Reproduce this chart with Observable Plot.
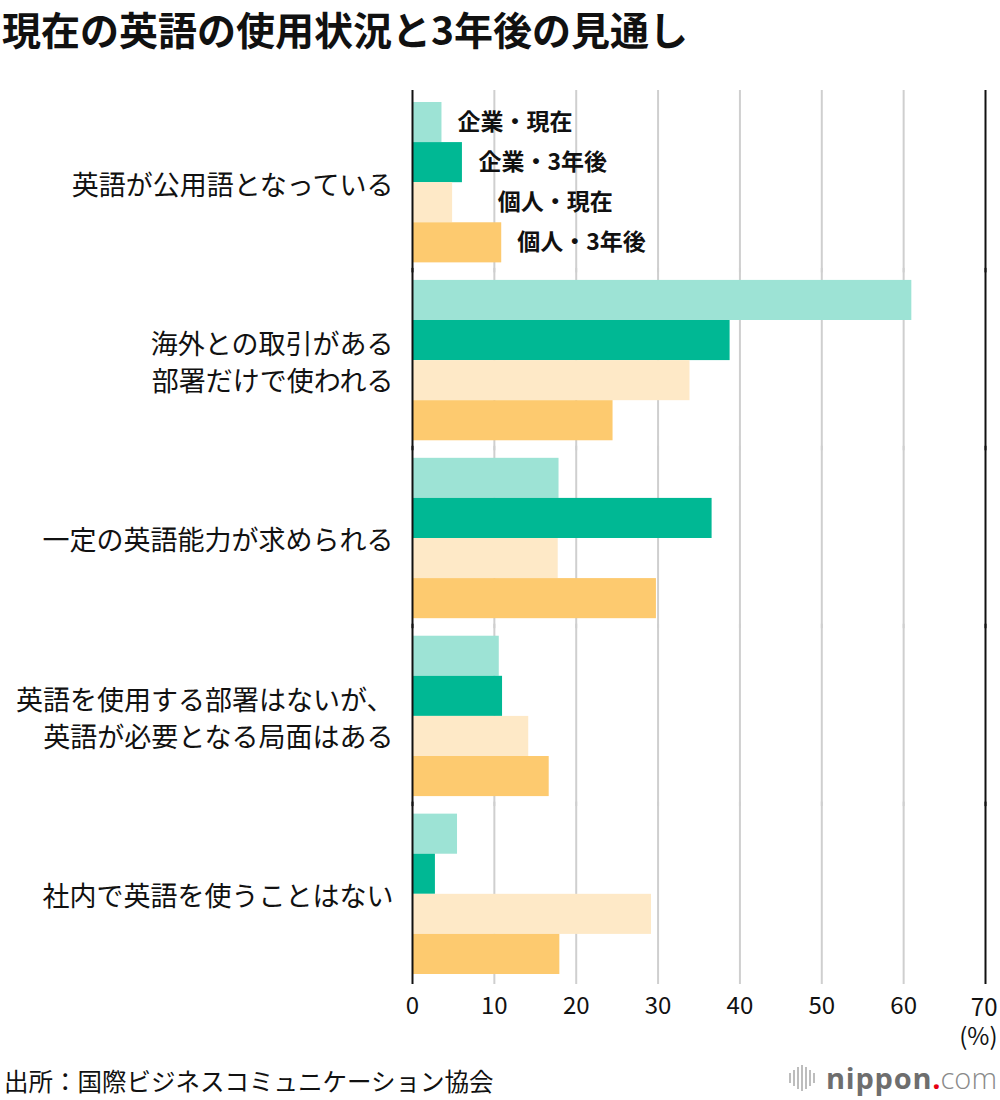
<!DOCTYPE html>
<html>
<head>
<meta charset="utf-8">
<script src="https://cdn.jsdelivr.net/npm/d3@7"></script>
<script src="https://cdn.jsdelivr.net/npm/@observablehq/plot@0.6"></script>
<style>
  body { margin: 0; background: #fff; font-family: "Noto Sans CJK JP", sans-serif; }
  #wrap { position: relative; width: 1000px; height: 1100px; overflow: hidden; }
  #title { height: 52px; line-height: 56px; font-size: 39px; font-weight: bold; padding-left: 2px; white-space: nowrap; color: #111; }
  #footer { position: relative; height: 48px; }
  #source { position: absolute; left: 4px; top: 11px; font-size: 24.5px; line-height: 36px; color: #111; white-space: nowrap; }
  #logo { position: absolute; right: 3px; top: 6px; height: 40px; display: flex; align-items: center; white-space: nowrap; }
  #logo .icon { display: flex; align-items: center; gap: 2px; margin-right: 11px; }
  #logo .icon span { display: block; width: 2px; background: #bdbdbd; }
  #logo .n { font-family: "Open Sans", sans-serif; font-weight: 700; font-size: 29px; line-height: 40px; color: #6e6e6e; letter-spacing: 0.8px; }
  #logo .d { font-family: "Open Sans", sans-serif; font-weight: 700; font-size: 29px; line-height: 40px; color: #e60012; }
  #logo .c { font-family: "Open Sans", sans-serif; font-weight: 300; font-size: 29px; line-height: 40px; color: #8a8a8a; }
</style>
</head>
<body>
<div id="wrap">
  <div id="title">現在の英語の使用状況と3年後の見通し</div>
  <div id="chart"></div>
  <div id="footer">
    <div id="source">出所：国際ビジネスコミュニケーション協会</div>
    <div id="logo">
      <div class="icon"><span style="height:10px"></span><span style="height:16px"></span><span style="height:22px"></span><span style="height:26px"></span><span style="height:22px"></span><span style="height:16px"></span><span style="height:10px"></span></div>
      <span class="n">nippon</span><span class="d">.</span><span class="c">com</span>
    </div>
  </div>
</div>
<script>
// ---- data ----
const categories = [
  "英語が公用語となっている",
  "海外との取引がある\n部署だけで使われる",
  "一定の英語能力が求められる",
  "英語を使用する部署はないが、\n英語が必要となる局面はある",
  "社内で英語を使うことはない"
];
const series = ["企業・現在", "企業・3年後", "個人・現在", "個人・3年後"];
const companyNow   = [3.6, 61.0, 17.9, 10.6, 5.5];
const companyLater = [6.1, 38.8, 36.6, 11.0, 2.8];
const personNow    = [4.9, 33.9, 17.8, 14.2, 29.2];
const personLater  = [10.9, 24.5, 29.8, 16.7, 18.0];
const seriesColors = ["#9de3d5", "#00b894", "#fee9c7", "#fdca6f"];
const legendLabelX = [5.5, 8.05, 10.4, 12.8];
const xTicks = [0, 10, 20, 30, 40, 50, 60, 70];
const unitLabel = "(%)";

// ---- table for the library ----
const seriesValues = [companyNow, companyLater, personNow, personLater];
const rows = [];
categories.forEach((c, ci) => {
  series.forEach((s, si) => rows.push({category: c, series: s, value: seriesValues[si][ci]}));
});

const gridOpts = {insetTop: -12, insetBottom: -10};
const lastTick = xTicks[xTicks.length - 1];
const lastCategory = categories[categories.length - 1];

const chart = Plot.plot({
  width: 1000,
  height: 1000,
  marginTop: 50,
  marginBottom: 78,
  marginLeft: 412,
  marginRight: 15,
  style: {fontFamily: "'Noto Sans CJK JP', sans-serif", color: "#111", background: "transparent", overflow: "visible"},
  x: {domain: [0, 70], axis: null},
  y: {domain: series, padding: 0, round: false, axis: null},
  fy: {domain: categories, paddingInner: 17.5 / 177.5, paddingOuter: 0, round: false, axis: null},
  color: {domain: series, range: seriesColors},
  marks: [
    Plot.ruleX(xTicks.filter(t => t !== 0 && t !== lastTick), {stroke: "#cfcfcf", strokeWidth: 2, ...gridOpts}),
    Plot.barX(rows, {x: "value", y: "series", fy: "category", fill: "series"}),
    Plot.ruleX([0, lastTick], {stroke: "#111", strokeWidth: 2, ...gridOpts}),
    Plot.text(series, {
      x: (d, i) => legendLabelX[i], y: d => d, fy: () => categories[0], text: d => d,
      textAnchor: "start", fontWeight: "bold", fontSize: 23, fill: "#111"
    }),
    Plot.axisFy({anchor: "left", tickSize: 0, tickPadding: 19, fontSize: 27, label: null, lineHeight: 1.38}),
    Plot.axisX({ticks: xTicks.slice(0, -1), tickSize: 0, tickPadding: 22, fontSize: 24, label: null}),
    Plot.text([lastTick], {
      x: d => d, fy: () => lastCategory, frameAnchor: "bottom", lineAnchor: "top",
      text: d => `${d}\n${unitLabel}`, textAnchor: "end", dx: 12, dy: 22,
      fontSize: 24, lineHeight: 1.17, fill: "#111"
    })
  ]
});
document.getElementById("chart").appendChild(chart);
</script>
</body>
</html>
